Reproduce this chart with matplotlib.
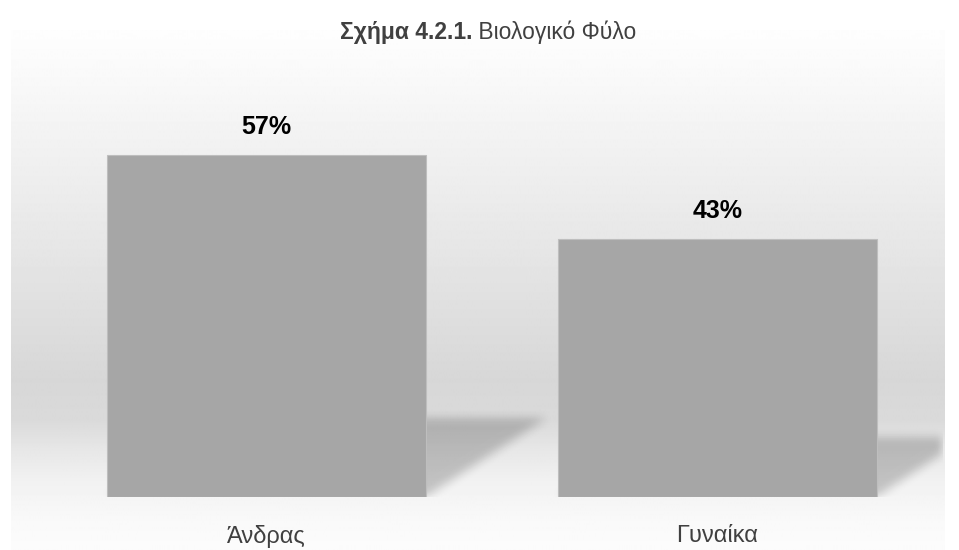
import numpy as np
import matplotlib
matplotlib.use("Agg")
import matplotlib.pyplot as plt
from matplotlib import font_manager

# data
categories = ["Άνδρας", "Γυναίκα"]
values = [57, 43]
value_labels = ["57%", "43%"]

names = {f.name for f in font_manager.fontManager.ttflist}
narrow = "Liberation Sans Narrow" if "Liberation Sans Narrow" in names else "Liberation Sans"
fam = [narrow, "DejaVu Sans"]

W, H = 959, 550
fig = plt.figure(figsize=(W / 100, H / 100), dpi=100)

# background gradient (pixel rows from top)
bg = fig.add_axes([11 / W, 0, (945 - 11) / W, (550 - 30) / H])
ys = np.arange(30, 551)
stops_y = [30, 60, 140, 250, 380, 420, 450, 480, 520, 550]
stops_v = [254, 251, 242, 230, 215, 218, 231, 241, 249, 252]
col = np.interp(ys, stops_y, stops_v) / 255.0
grad = np.repeat(col[:, None], 10, axis=1)
bg.imshow(grad, cmap="gray", vmin=0, vmax=1, aspect="auto", extent=[0, 1, 0, 1])
bg.axis("off")

# main axes: baseline at pixel 497, 6 px per percent
base_px = 497
top_px = 60
ax = fig.add_axes([41 / W, (H - base_px) / H, 902 / W, (base_px - top_px) / H])
ax.patch.set_visible(False)
ymax = (base_px - top_px) / 6.0
ax.set_xlim(-0.5, 1.5)
ax.set_ylim(0, ymax)

width = 0.707
x = np.arange(len(values))

# soft perspective shadows
nx, ny = 902, base_px - top_px
gx = np.linspace(-0.5, 1.5, nx)
gy = np.linspace(ymax, 0, ny)
XX, YY = np.meshgrid(gx, gy)
mask = np.zeros_like(XX)
for xi, v in zip(x, values):
    dy = 0.23 * v
    dx = 0.353 * 6 * v / 451
    t = YY / dy
    inside = (t >= 0) & (t <= 1)
    left = xi - width / 2 + t * dx
    right = xi + width / 2 + t * dx
    inside &= (XX >= left) & (XX <= right)
    mask = np.maximum(mask, inside.astype(float))

def box_blur(a, r, axis):
    k = np.ones(2 * r + 1) / (2 * r + 1)
    return np.apply_along_axis(lambda m: np.convolve(m, k, mode="same"), axis, a)

for _ in range(2):
    mask = box_blur(mask, 5, 0)
    mask = box_blur(mask, 5, 1)

shadow = np.zeros((ny, nx, 4))
shadow[..., 3] = mask * 0.2
ax.imshow(shadow, extent=[-0.5, 1.5, 0, ymax], aspect="auto", zorder=1,
          interpolation="bilinear")

ax.bar(x, values, width=width, color="#A6A6A6", edgecolor="#BEBEBE",
       linewidth=0.8, zorder=2)

for xi, v, lab in zip(x, values, value_labels):
    ax.text(xi, v + 4.6, lab, ha="center", va="center", fontsize=18,
            fontweight="bold", color="black", family=fam)

ax.set_xticks(x)
ax.set_xticklabels(categories, fontsize=17, color="#404040", family=fam)
ax.tick_params(axis="x", length=0, pad=20)
ax.set_yticks([])
for s in ax.spines.values():
    s.set_visible(False)

# title: bold part + regular part
r = fig.canvas.get_renderer()
t1 = fig.text(0, 0, "Σχήμα 4.2.1.", fontsize=16.5, fontweight="bold",
              color="#404040", family=fam)
t2 = fig.text(0, 0, " Βιολογικό Φύλο", fontsize=16.5, color="#404040", family=fam)
w1 = t1.get_window_extent(r).width
w2 = t2.get_window_extent(r).width
cx = 488
start = cx - (w1 + w2) / 2
ty = (H - 32) / H
t1.set_position((start / W, ty))
t1.set_va("center")
t2.set_position(((start + w1) / W, ty))
t2.set_va("center")

fig.savefig("out.png", dpi=100)
